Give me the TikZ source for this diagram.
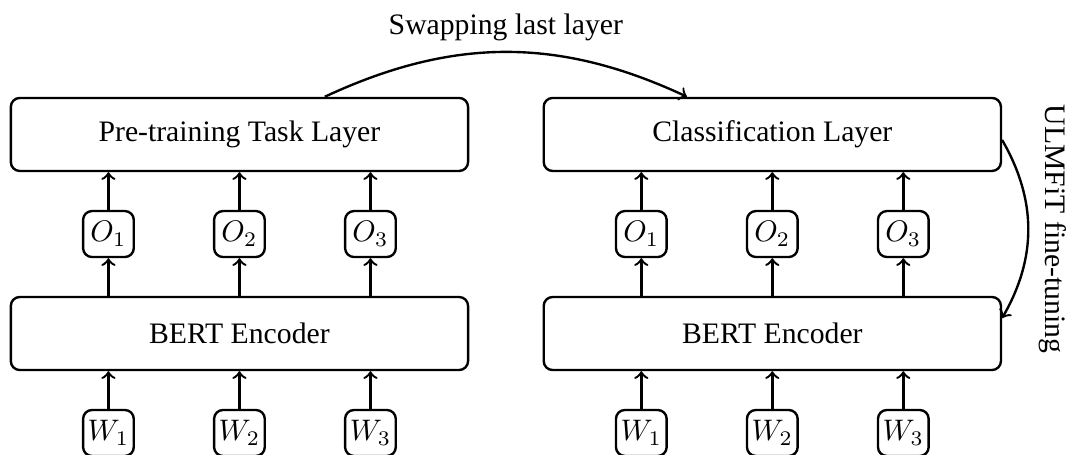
\documentclass[tikz,border=0pt]{standalone}
\usepackage{fontspec}
\setmainfont{Liberation Serif}
\usepackage{amsmath,amssymb}

\begin{document}
\begin{tikzpicture}[thick,
    layer/.style={draw, rounded corners=3pt, minimum width=5.41cm, minimum height=0.864cm},
    token/.style={draw, rounded corners=3pt, inner sep=1pt, minimum width=0.6cm, minimum height=0.544cm}]

          \useasboundingbox (0,0) rectangle (12.66,5.383);

          \begin{scope}[xshift=2.833cm]
            \node[layer] (ptl) at (0,3.792) {Pre-training Task Layer};
            \node[layer] (bertA) at (0,1.437) {BERT Encoder};

            \foreach \i/\x in {1/-1.55,2/0,3/1.55}{
              \node[token] (oA\i) at (\x,2.614) {$O_\i$};
              \node[token] (wA\i) at (\x,0.26) {$W_\i$};
              \draw[->] (wA\i) -- (wA\i |- bertA.south);
              \draw[->] (oA\i |- bertA.north) -- (oA\i);
              \draw[->] (oA\i) -- (oA\i |- ptl.south);
            }
          \end{scope}

          \begin{scope}[xshift=9.138cm]
            \node[layer] (cls) at (0,3.792) {Classification Layer};
            \node[layer] (bertB) at (0,1.437) {BERT Encoder};

            \foreach \i/\x in {1/-1.55,2/0,3/1.55}{
              \node[token] (oB\i) at (\x,2.614) {$O_\i$};
              \node[token] (wB\i) at (\x,0.26) {$W_\i$};
              \draw[->] (wB\i) -- (wB\i |- bertB.south);
              \draw[->] (oB\i |- bertB.north) -- (oB\i);
              \draw[->] (oB\i) -- (oB\i |- cls.south);
            }
          \end{scope}

          \draw[->] ([xshift=1.01cm]ptl.north) to[bend left=25]
            node[above] {Swapping last layer} ([xshift=-1.01cm]cls.north);
          \draw[->] ([yshift=-0.065cm]cls.east) to[bend left=30]
            node[above, rotate=-90] {ULMFiT fine-tuning} ([yshift=0.183cm]bertB.east);
        \end{tikzpicture}
\end{document}
